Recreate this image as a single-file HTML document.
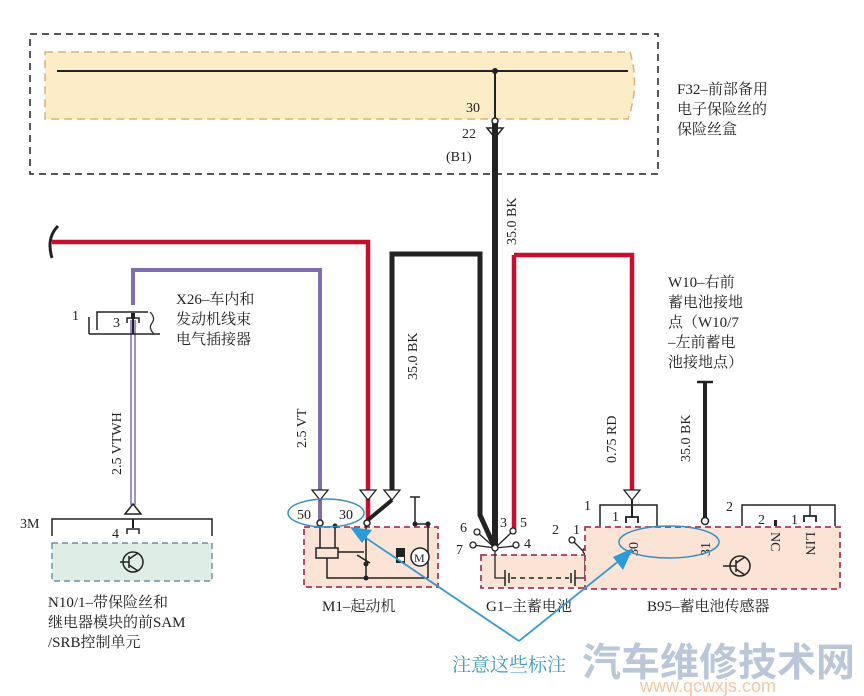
<!DOCTYPE html>
<html><head><meta charset="utf-8"><style>
html,body{margin:0;padding:0;background:#fff;}
svg{display:block;}
text{font-family:"Liberation Serif","Noto Serif CJK SC",serif;fill:#222;}
.cn{font-family:"Liberation Serif","Noto Serif CJK SC",serif;font-size:15px;}
.s{font-size:14px;}
</style></head><body>
<svg width="864" height="696" viewBox="0 0 864 696" xmlns="http://www.w3.org/2000/svg">
<rect x="30" y="34" width="628" height="140" fill="none" stroke="#222" stroke-width="1.5" stroke-dasharray="7,5"/>
<path d="M45 52 H630 Q640 85 628 119 H45 Z" fill="#fdecc8" stroke="#d9b27a" stroke-width="1.5" stroke-dasharray="8,5"/>
<line x1="57" y1="71" x2="628" y2="71" stroke="#222" stroke-width="2"/>
<circle cx="495" cy="71" r="3" fill="#222"/>
<line x1="495" y1="71" x2="495" y2="120" stroke="#222" stroke-width="2"/>
<text x="466" y="112" class="s">30</text>
<text x="462" y="138" class="s">22</text>
<text x="446" y="161" class="s">(B1)</text>
<text x="677" y="94" class="cn">F32–前部备用</text>
<text x="677" y="114" class="cn">电子保险丝的</text>
<text x="677" y="134" class="cn">保险丝盒</text>

<line x1="495" y1="120" x2="495" y2="548" stroke="#222" stroke-width="6"/>
<circle cx="495" cy="121" r="3" fill="#fff" stroke="#222" stroke-width="1.5"/>
<path d="M487 128 H503 L495 138 Z M495 128 L495 138" fill="none" stroke="#222" stroke-width="1.5"/>
<text transform="translate(516 245) rotate(-90)" class="s">35.0 BK</text>

<path d="M392 492 V254 H480 V515 L494 546" fill="none" stroke="#222" stroke-width="5"/>
<text transform="translate(417 380) rotate(-90)" class="s">35.0 BK</text>

<path d="M52 242 H368 V520" fill="none" stroke="#c8102e" stroke-width="4.5"/>
<path d="M58 226 Q46 238 52 258" fill="none" stroke="#222" stroke-width="3"/>

<path d="M133 305 V270 H320 V520" fill="none" stroke="#7f6fae" stroke-width="4"/>
<line x1="131" y1="320" x2="131" y2="505" stroke="#7f6fae" stroke-width="1.5"/>
<line x1="135" y1="320" x2="135" y2="505" stroke="#7f6fae" stroke-width="1.5"/>
<text transform="translate(121 475) rotate(-90)" class="s">2.5 VTWH</text>
<text transform="translate(306 448) rotate(-90)" class="s">2.5 VT</text>

<path d="M89 334 V317 M97 330 V312 H148" fill="none" stroke="#222" stroke-width="1.5"/>
<path d="M89 334 H160" stroke="#222" stroke-width="1.5"/>
<path d="M150 312 Q156 318 152 323 Q148 328 154 334" fill="none" stroke="#222" stroke-width="1.2"/>
<path d="M127 323 V318 H139 V323" fill="none" stroke="#222" stroke-width="1.5"/>
<rect x="131" y="313" width="4" height="6" fill="#222"/>
<line x1="133" y1="319" x2="133" y2="334" stroke="#222" stroke-width="2"/>
<text x="72" y="320" class="s">1</text>
<text x="113" y="327" class="s">3</text>
<text x="176" y="304" class="cn">X26–车内和</text>
<text x="176" y="324" class="cn">发动机线束</text>
<text x="176" y="344" class="cn">电气插接器</text>

<path d="M125 514 H141 L133 504 Z" fill="#fff" stroke="#222" stroke-width="1.5"/>
<path d="M52 536 V519 H212 V536" fill="none" stroke="#222" stroke-width="1.5"/>
<line x1="133" y1="519" x2="133" y2="528" stroke="#222" stroke-width="2"/>
<path d="M127 534 V529 H139 V534" fill="none" stroke="#222" stroke-width="1.5"/>
<text x="20" y="528" class="s">3M</text>
<text x="112" y="538" class="s">4</text>
<rect x="52" y="543" width="160" height="38" fill="#deeee6" stroke="#5a7a95" stroke-width="1.2" stroke-dasharray="6,4"/>
<circle cx="133" cy="562" r="10" fill="none" stroke="#222" stroke-width="1.5"/>
<path d="M120 562 H129 M129 556 V568 M129 559 L138 553 M129 565 L138 571" stroke="#222" stroke-width="1.5" fill="none"/>
<text x="48" y="607" class="cn">N10/1–带保险丝和</text>
<text x="48" y="627" class="cn">继电器模块的前SAM</text>
<text x="48" y="647" class="cn">/SRB控制单元</text>

<rect x="304" y="527" width="134" height="60" fill="#fbe3d5" stroke="#a83a5a" stroke-width="1.8" stroke-dasharray="6,4"/>
<path d="M312 490 H328 L320 500 Z" fill="#fff" stroke="#222" stroke-width="1.3"/>
<path d="M360 490 H376 L368 500 Z" fill="#fff" stroke="#222" stroke-width="1.3"/>
<path d="M384 490 H400 L392 500 Z" fill="#fff" stroke="#222" stroke-width="1.3"/>
<line x1="392" y1="500" x2="368" y2="520" stroke="#222" stroke-width="4"/>
<path d="M410 497 H420 M415 497 V524 M428 524 V578" stroke="#222" stroke-width="1.5"/>
<circle cx="415" cy="524" r="2.5" fill="#222"/><circle cx="428" cy="524" r="2.5" fill="#222"/>
<line x1="415" y1="524" x2="428" y2="524" stroke="#222" stroke-width="1.5"/>
<path d="M320 524 V548 M335 524 V548 M366 524 V560 M327 558 V578 H428 M366 560 V578" fill="none" stroke="#222" stroke-width="1.5"/>
<rect x="316" y="548" width="22" height="10" fill="none" stroke="#222" stroke-width="1.5"/>
<path d="M338 552 H364 M357 555 L370 563" stroke="#222" stroke-width="1.5"/>
<circle cx="335" cy="526" r="2.5" fill="#222"/><circle cx="366" cy="564" r="2.5" fill="#222"/><circle cx="366" cy="578" r="2.5" fill="#222"/>
<circle cx="320" cy="523" r="3" fill="#fff" stroke="#222" stroke-width="1.5"/>
<circle cx="367" cy="523" r="3" fill="#fff" stroke="#222" stroke-width="1.5"/>
<rect x="396" y="548" width="9" height="15" fill="#222"/><rect x="398" y="557" width="6" height="4" fill="#fff"/>
<circle cx="420" cy="557" r="9" fill="#fff" stroke="#222" stroke-width="1.5"/>
<text x="414" y="562" font-size="12">M</text>
<text x="297" y="519" class="s">50</text>
<text x="339" y="519" class="s">30</text>
<ellipse cx="326" cy="513" rx="38" ry="14" fill="none" stroke="#3a8fc0" stroke-width="1.5"/>
<text x="322" y="611" class="cn">M1–起动机</text>

<path d="M514 255 V529" stroke="#c8102e" stroke-width="4.5" fill="none"/>
<path d="M514 255 H632 V490" stroke="#c8102e" stroke-width="4.5" fill="none"/>
<rect x="481" y="555" width="115" height="33" fill="#fbe3d5" stroke="#a83a5a" stroke-width="1.8" stroke-dasharray="6,4"/>
<path d="M495 548 L477 532 M495 548 L473 545 M495 548 L512 532 M495 548 L515 546 M495 548 V578 H505 M585 553 V578 H575" stroke="#222" stroke-width="1.3" fill="none"/>
<path d="M505 570 V586 M509 573 V583 M575 570 V586 M571 573 V583" stroke="#222" stroke-width="1.5"/>
<line x1="511" y1="578" x2="569" y2="578" stroke="#222" stroke-width="1.5" stroke-dasharray="5,4"/>
<path d="M585 553 L573 541" stroke="#222" stroke-width="1.3"/>
<circle cx="495" cy="548" r="3" fill="#fff" stroke="#222" stroke-width="1.3"/>
<circle cx="477" cy="532" r="3" fill="#fff" stroke="#222" stroke-width="1.3"/>
<circle cx="473" cy="545" r="3" fill="#fff" stroke="#222" stroke-width="1.3"/>
<circle cx="513" cy="531" r="3" fill="#fff" stroke="#222" stroke-width="1.3"/>
<circle cx="516" cy="545" r="3" fill="#fff" stroke="#222" stroke-width="1.3"/>
<circle cx="572" cy="540" r="3" fill="#fff" stroke="#222" stroke-width="1.3"/>
<circle cx="586" cy="551" r="3" fill="#fff" stroke="#222" stroke-width="1.3"/>
<text x="460" y="532" class="s">6</text><text x="456" y="554" class="s">7</text>
<text x="500" y="527" class="s">3</text><text x="520" y="527" class="s">5</text>
<text x="524" y="548" class="s">4</text>
<text x="552" y="534" class="s">2</text><text x="573" y="534" class="s">1</text>
<text x="486" y="611" class="cn">G1–主蓄电池</text>

<rect x="585" y="527" width="255" height="62" fill="#fbe3d5" stroke="#a83a5a" stroke-width="1.8" stroke-dasharray="6,4"/>
<path d="M624 490 H640 L632 500 Z" fill="#fff" stroke="#222" stroke-width="1.3"/>
<path d="M600 526 V505 H657 V526" fill="none" stroke="#222" stroke-width="1.5"/>
<line x1="632" y1="500" x2="632" y2="518" stroke="#222" stroke-width="2"/>
<path d="M626 523 V517 H638 V523" fill="none" stroke="#222" stroke-width="1.8"/>
<text x="584" y="510" class="s">1</text><text x="612" y="521" class="s">1</text>
<line x1="705" y1="382" x2="705" y2="519" stroke="#222" stroke-width="4"/>
<line x1="697" y1="382" x2="713" y2="382" stroke="#222" stroke-width="2.5"/>
<circle cx="705" cy="521" r="3.5" fill="#fff" stroke="#222" stroke-width="1.5"/>
<text transform="translate(690 462) rotate(-90)" class="s">35.0 BK</text>
<text transform="translate(616 463) rotate(-90)" class="s">0.75 RD</text>
<path d="M742 526 V505 H835 V526" fill="none" stroke="#222" stroke-width="1.5"/>
<text x="726" y="511" class="s">2</text><text x="758" y="524" class="s">2</text><text x="791" y="524" class="s">1</text>
<rect x="774" y="520" width="3" height="6" fill="#222"/>
<line x1="810" y1="505" x2="810" y2="516" stroke="#222" stroke-width="1.5"/>
<path d="M804 522 V516 H816 V522" fill="none" stroke="#222" stroke-width="1.8"/>
<text transform="translate(638 556) rotate(-90)" class="s">30</text>
<text transform="translate(710 556) rotate(-90)" class="s">31</text>
<text transform="translate(771 532) rotate(90)" class="s">NC</text>
<text transform="translate(806 532) rotate(90)" class="s">LIN</text>
<ellipse cx="669" cy="542" rx="50" ry="16" fill="none" stroke="#3a8fc0" stroke-width="1.5"/>
<circle cx="740" cy="566" r="10" fill="none" stroke="#222" stroke-width="1.5"/>
<path d="M723 566 H736 M736 560 V572 M736 563 L745 557 M736 569 L745 575" stroke="#222" stroke-width="1.5" fill="none"/>
<text x="647" y="611" class="cn">B95–蓄电池传感器</text>

<text x="668" y="287" class="cn">W10–右前</text>
<text x="668" y="307" class="cn">蓄电池接地</text>
<text x="668" y="327" class="cn">点（W10/7</text>
<text x="668" y="347" class="cn">–左前蓄电</text>
<text x="668" y="367" class="cn">池接地点）</text>

<path d="M519 641 L363 536 M519 641 L620 560" stroke="#3a9ad0" stroke-width="1.8" fill="none"/>
<path d="M350 527 L372 530 L362 543 Z" fill="#2a9ad8"/>
<path d="M633 548 L623 570 L613 557 Z" fill="#2a9ad8"/>
<text x="452" y="671" style="font-family:'Liberation Serif','Noto Serif CJK SC',serif;font-size:19px;fill:#3a9ab8">注意这些标注</text>
<text x="582" y="676" style="font-family:'Liberation Sans','Noto Sans CJK SC',sans-serif;font-size:39px;font-weight:bold;fill:#b4c2d4;opacity:0.9">汽车维修技术网</text>
<text x="640" y="692" style="font-family:'Liberation Sans',sans-serif;font-size:18px;fill:#f4c7a0">www.qcwxjs.com</text>
</svg>
</body></html>
